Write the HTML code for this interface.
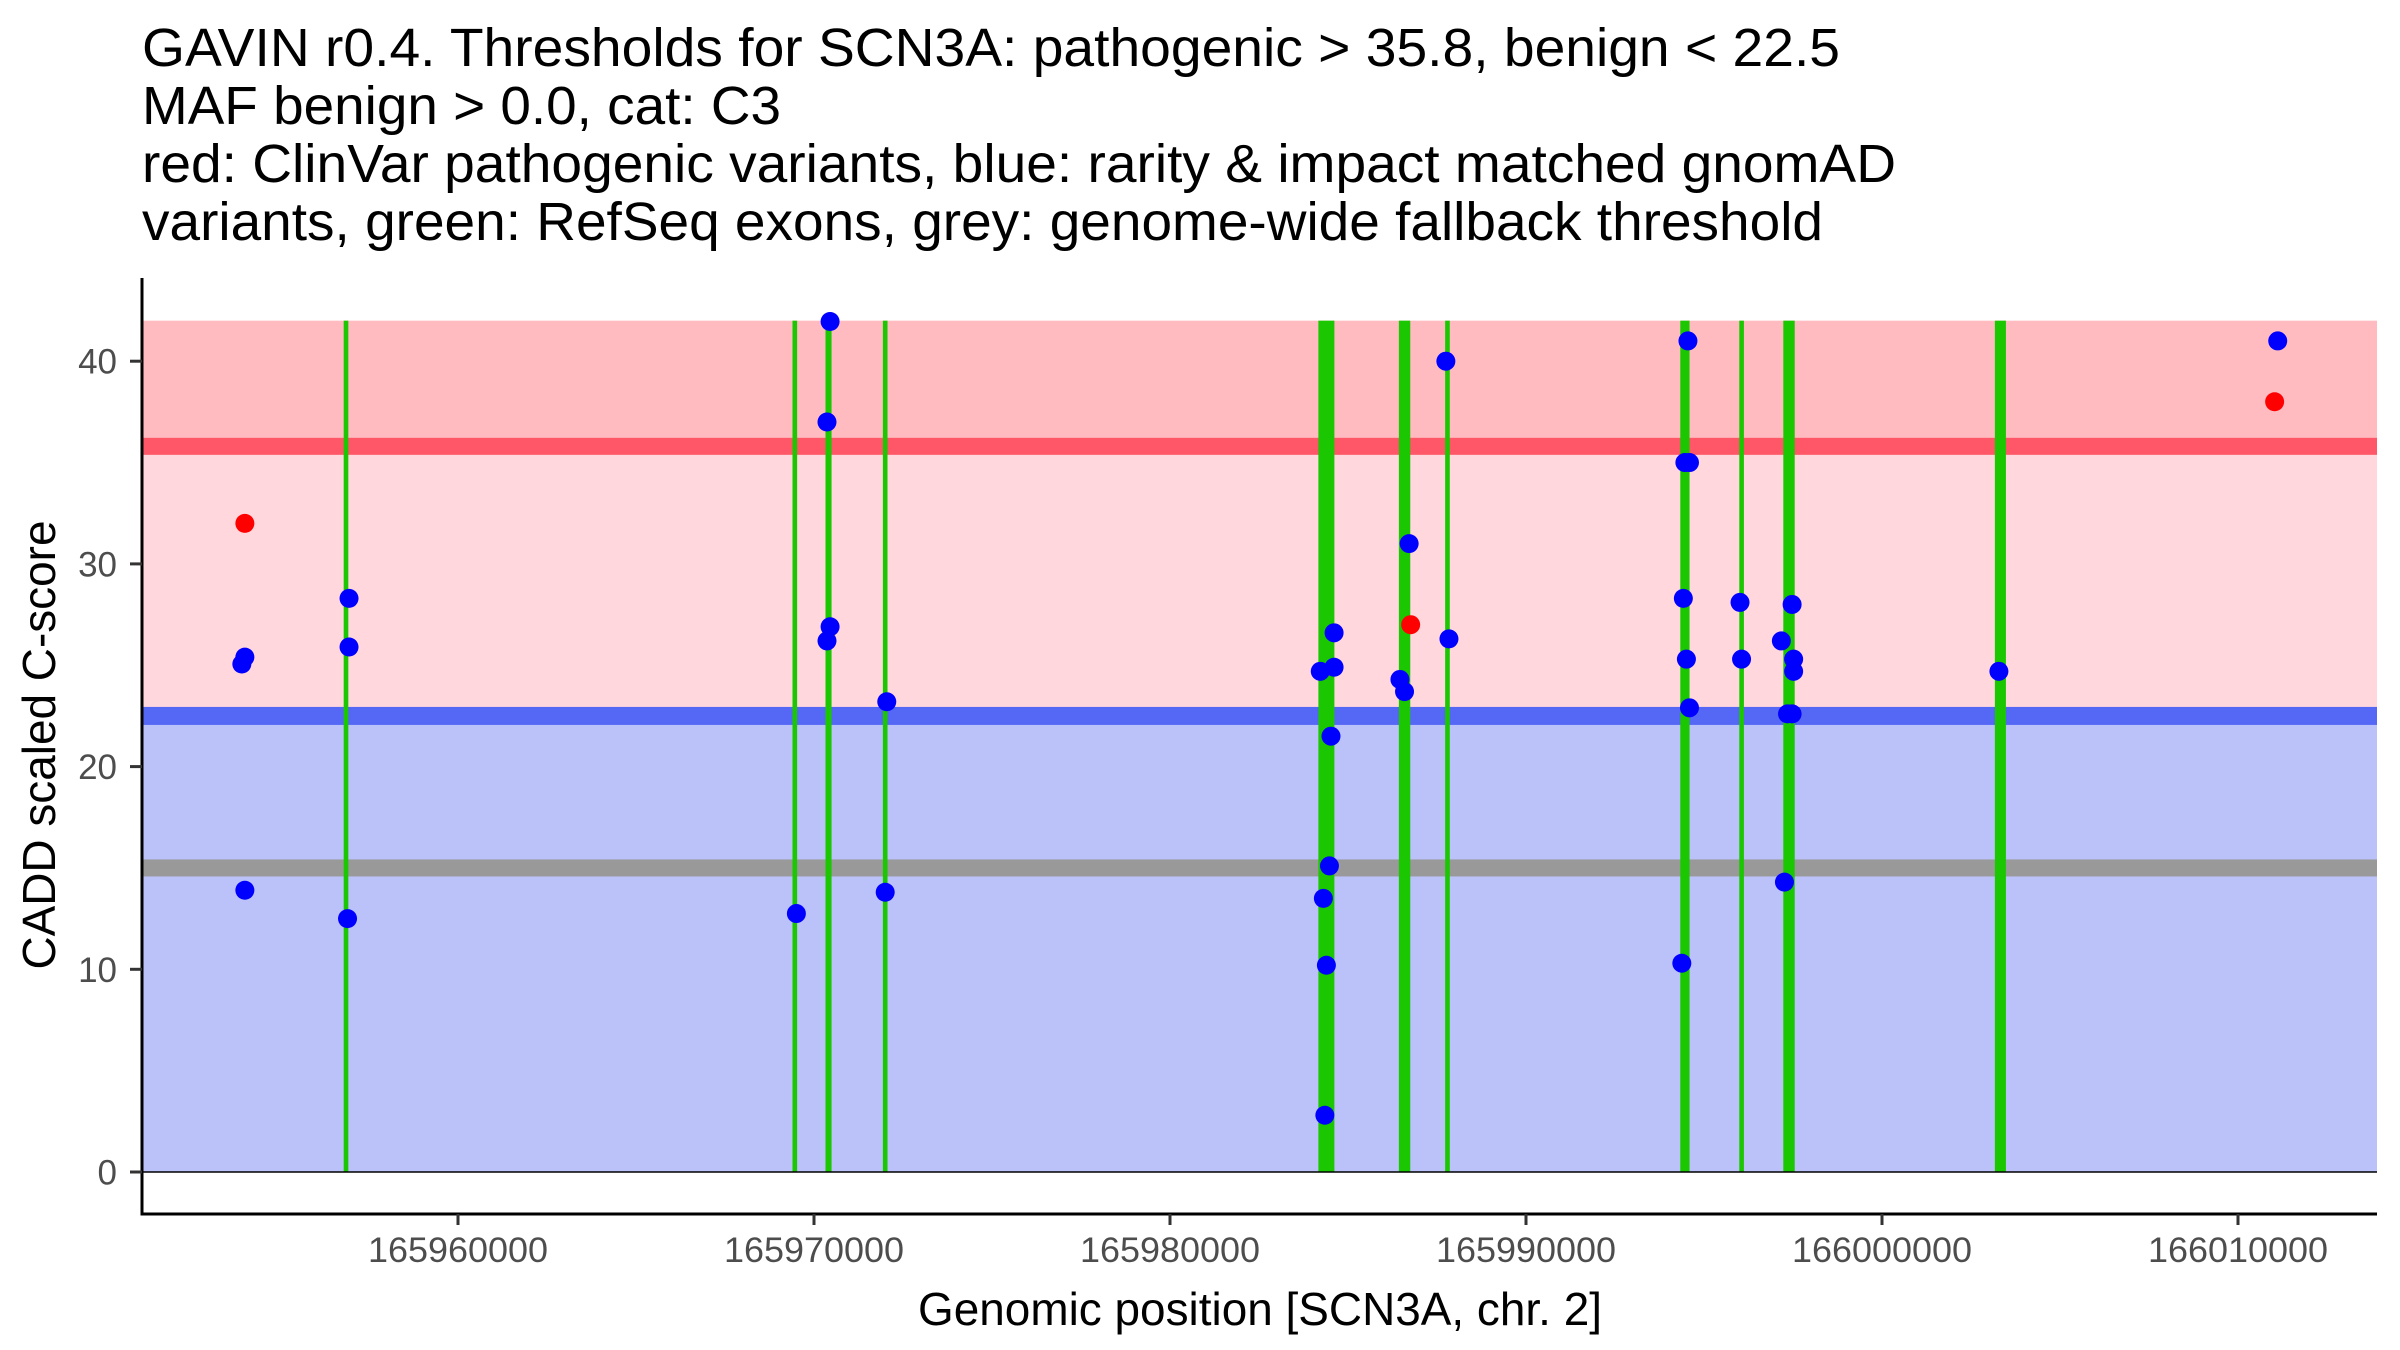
<!DOCTYPE html>
<html><head><meta charset="utf-8">
<style>
html,body{margin:0;padding:0;background:#fff;}
svg{display:block;font-family:"Liberation Sans",Arial,sans-serif;}
</style></head>
<body>
<svg id="chart" width="2400" height="1350" viewBox="0 0 2400 1350">
<g font-size="54" fill="#000">
<text x="142" y="66" textLength="1698" lengthAdjust="spacingAndGlyphs">GAVIN r0.4. Thresholds for SCN3A: pathogenic &gt; 35.8, benign &lt; 22.5</text>
<text x="142" y="124" textLength="639" lengthAdjust="spacingAndGlyphs">MAF benign &gt; 0.0, cat: C3</text>
<text x="142" y="182" textLength="1754" lengthAdjust="spacingAndGlyphs">red: ClinVar pathogenic variants, blue: rarity &amp; impact matched gnomAD</text>
<text x="142" y="240" textLength="1681" lengthAdjust="spacingAndGlyphs">variants, green: RefSeq exons, grey: genome-wide fallback threshold</text>
</g>
<g id="bands"></g>
<g id="exons"></g>
<g id="points"></g>
<g id="axes"></g>
<text x="1260" y="1325" font-size="46" text-anchor="middle" fill="#000" textLength="684" lengthAdjust="spacingAndGlyphs">Genomic position [SCN3A, chr. 2]</text>
<text transform="translate(55,745) rotate(-90)" font-size="46" text-anchor="middle" fill="#000" textLength="449" lengthAdjust="spacingAndGlyphs">CADD scaled C-score</text>
</svg>
<script>
const xTicks = [165960000,165970000,165980000,165990000,166000000,166010000];
const yTicks = [0,10,20,30,40];
const thresholds = {pathogenic:35.8, benign:22.5, fallback:15, top:42};
const exonStart = [165956854,165969461,165970408,165972000,165984393,165986589,165987794,165994464,165996056,165997388,166003326];
const exonWidth = [130,130,170,130,450,320,130,260,130,320,310];
const blueX = [165953928,165954013,165954013,165956939,165956939,165956897,165969505,165970452,165970365,165970452,165970365,165972044,165972000,165984221,165984609,165984609,165984522,165984479,165984308,165984393,165984350,165986459,165986588,165986717,165987749,165987836,165994549,165994463,165994592,165994420,165994506,165994592,165994377,165996012,165996055,165997173,165997475,165997518,165997518,165997346,165997475,165997260,166003284,166011116];
const blueY = [25.06,25.4,13.9,28.3,25.9,12.5,12.75,41.96,37.0,26.9,26.2,23.2,13.8,24.7,26.6,24.9,21.5,15.1,13.5,10.2,2.8,24.3,23.7,31.0,40.0,26.3,41.0,35.0,35.0,28.3,25.3,22.9,10.3,28.1,25.3,26.2,28.0,25.3,24.7,22.6,22.6,14.3,24.7,41.0];
const redX = [165954013,165986760,166011029];
const redY = [32.0,27.0,38.0];

const NS='http://www.w3.org/2000/svg';
const X0=142, X1=2377, AXB=1214, AXT=278;
function xs(g){return 458 + (g-165960000)/10000*356;}
function ys(v){return 1172 - v*20.27;}
function mk(tag,attrs,parent){const e=document.createElementNS(NS,tag);for(const k in attrs)e.setAttribute(k,attrs[k]);parent.appendChild(e);return e;}

const bands=document.getElementById('bands');
let r;
r=mk('rect',{x:X0,y:ys(thresholds.top),width:X1-X0,height:ys(thresholds.pathogenic)-ys(thresholds.top),fill:'#FFBBC0'},bands);


r=mk('rect',{x:X0,y:ys(thresholds.pathogenic),width:X1-X0,height:ys(thresholds.benign)-ys(thresholds.pathogenic),fill:'#FFD7DC'},bands);


r=mk('rect',{x:X0,y:ys(thresholds.benign),width:X1-X0,height:ys(0)-ys(thresholds.benign),fill:'#BBC1F9'},bands);


r=mk('rect',{x:X0,y:ys(thresholds.pathogenic)-8.5,width:X1-X0,height:17,fill:'#FF5767'},bands);


r=mk('rect',{x:X0,y:ys(thresholds.benign)-9,width:X1-X0,height:18,fill:'#5568F5'},bands);


r=mk('rect',{x:X0,y:ys(thresholds.fallback)-8.5,width:X1-X0,height:17,fill:'#999999'},bands);



const ex=document.getElementById('exons');
exonStart.forEach((s,i)=>{
  const x=xs(s), w=Math.max(4.5,exonWidth[i]/10000*356);
  const e=mk('rect',{x:x-w/2,y:ys(thresholds.top),width:w,height:ys(0)-ys(thresholds.top),fill:'#1AC700'},ex);
  
  
});

const pts=document.getElementById('points');
blueX.forEach((g,i)=>{
  const c=mk('circle',{cx:xs(g),cy:ys(blueY[i]),r:9.5,fill:'#0000FF'},pts);
  
  
});
redX.forEach((g,i)=>{
  const c=mk('circle',{cx:xs(g),cy:ys(redY[i]),r:9.5,fill:'#FF0000'},pts);
  
  
});

const ax=document.getElementById('axes');
let l=mk('line',{x1:X0,y1:AXT,x2:X0,y2:AXB+1.5,stroke:'#000','stroke-width':3},ax);


l=mk('line',{x1:X0-1.5,y1:AXB,x2:X1,y2:AXB,stroke:'#000','stroke-width':3},ax);


l=mk('line',{x1:X0,y1:ys(0),x2:X1,y2:ys(0),stroke:'#000','stroke-width':1.5},ax);


yTicks.forEach(v=>{
  const t=mk('line',{x1:X0-12,y1:ys(v),x2:X0,y2:ys(v),stroke:'#333','stroke-width':3},ax);
  
  
  const tx=mk('text',{x:117,y:ys(v)+12.5,'font-size':35,'text-anchor':'end',fill:'#4D4D4D'},ax);
  tx.textContent=v;
  
  
});
xTicks.forEach(g=>{
  const t=mk('line',{x1:xs(g),y1:AXB,x2:xs(g),y2:AXB+11,stroke:'#333','stroke-width':3},ax);
  
  
  const tx=mk('text',{x:xs(g),y:1262,'font-size':35,'text-anchor':'middle',fill:'#4D4D4D',textLength:180,lengthAdjust:'spacingAndGlyphs'},ax);
  tx.textContent=g;
  
  
});
</script>
</body></html>
